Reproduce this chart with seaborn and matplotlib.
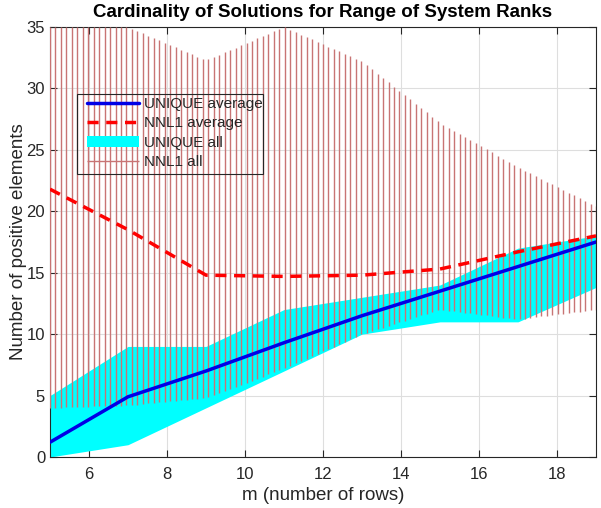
import numpy as np
import pandas as pd
import matplotlib
matplotlib.use("Agg")
import matplotlib.pyplot as plt
from matplotlib.patches import Rectangle
import seaborn as sns

# ---- data ----
m_rows = [5, 7, 9, 11, 13, 15, 17, 19]
unique_avg = [1.2, 4.9, 7.0, 9.3, 11.5, 13.5, 15.5, 17.5]
unique_min = [0.0, 1.0, 4.0, 7.0, 10.0, 11.0, 11.0, 13.8]
unique_max = [5.0, 9.0, 9.0, 12.0, 13.0, 14.0, 17.0, 18.0]
nnl1_avg = [21.8, 18.5, 14.8, 14.7, 14.8, 15.3, 16.7, 18.0]
nnl1_min = [4.0, 4.2, 4.8, 7.2, 10.0, 12.0, 11.2, 12.0]
nnl1_max = [35.0, 35.0, 32.3, 35.0, 32.2, 27.2, 23.6, 20.4]
x_ticks = [6, 8, 10, 12, 14, 16, 18]
y_ticks = [0, 5, 10, 15, 20, 25, 30, 35]

sns.set_theme(style="whitegrid")
plt.rcParams["font.family"] = ["Liberation Sans", "DejaVu Sans"]

fig = plt.figure(figsize=(6.01, 5.08), dpi=100)
ax = fig.add_axes([50 / 601, 51 / 508, 546 / 601, 430 / 508])
ax.set_facecolor("white")

df = pd.DataFrame({"m": m_rows, "unique_avg": unique_avg, "nnl1_avg": nnl1_avg})

# UNIQUE all (cyan band)
ax.fill_between(m_rows, unique_min, unique_max, color="#00ffff",
                linewidth=0, zorder=2, label="UNIQUE all")

# NNL1 all (vertical hatch lines between min and max)
hx = np.linspace(m_rows[0], m_rows[-1], 101)
hlo = np.interp(hx, m_rows, nnl1_min)
hhi = np.interp(hx, m_rows, nnl1_max)
ax.vlines(hx, hlo, hhi, colors="#c87474", linewidth=1.0, zorder=3,
          label="NNL1 all")

sns.lineplot(data=df, x="m", y="unique_avg", ax=ax, color="#0000e6",
             linewidth=2.5, zorder=5, label="UNIQUE average")
sns.lineplot(data=df, x="m", y="nnl1_avg", ax=ax, color="#ff0000",
             linewidth=2.5, linestyle=(0, (3.2, 2.2)), zorder=5,
             label="NNL1 average")

ax.set_xlim(5, 19)
ax.set_ylim(0, 35)
ax.set_xticks(x_ticks)
ax.set_yticks(y_ticks)
ax.grid(True, color="#dedede", linewidth=0.8, zorder=0)
ax.set_axisbelow(True)
for s in ax.spines.values():
    s.set_color("#262626")
    s.set_linewidth(0.8)
    s.set_visible(True)
ax.tick_params(direction="in", length=5, width=0.8, colors="#262626",
               labelsize=12, top=True, right=True, bottom=True, left=True,
               labelcolor="#262626")
ax.tick_params(axis="x", pad=7)

ax.set_xlabel("m (number of rows)", fontsize=13.5, color="#262626", labelpad=4)
ax.set_ylabel("Number of positive elements", fontsize=13.5, color="#262626",
              labelpad=0)
ax.set_title("Cardinality of Solutions for Range of System Ranks",
             fontsize=13.5, fontweight="bold", color="black", pad=7)

handles, labels = ax.get_legend_handles_labels()
order = ["UNIQUE average", "NNL1 average", "UNIQUE all", "NNL1 all"]
hmap = dict(zip(labels, handles))
leg = ax.legend([hmap[k] for k in order], order, loc="upper left",
                bbox_to_anchor=((87 - 50) / 546, (457 - 97) / 430),
                borderaxespad=0, borderpad=0,
                fontsize=11, frameon=False, handlelength=3.4,
                handletextpad=0.35, labelspacing=0.36)
leg.set_zorder(10)
frame = Rectangle(((77 - 50) / 546, (457 - 174) / 430), 186 / 546, 80 / 430,
                  transform=ax.transAxes, fill=False, edgecolor="#262626",
                  linewidth=0.8, zorder=9)
ax.add_patch(frame)

fig.savefig("out.png", dpi=100)
